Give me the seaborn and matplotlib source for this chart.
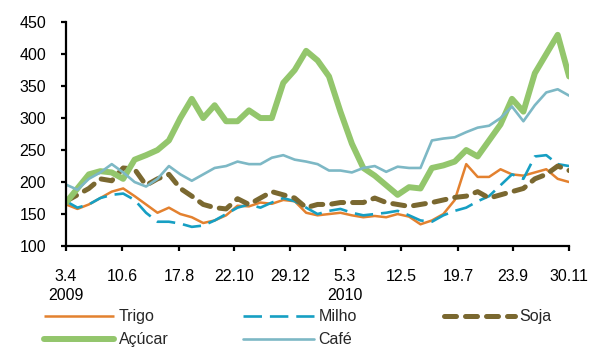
import pandas as pd
import matplotlib
matplotlib.use("Agg")
from matplotlib import pyplot
import seaborn as sns

# indices de precos (base 100), leitura aproximada do grafico
acucar = [168, 190, 212, 217, 215, 205, 235, 242, 250, 265, 300, 330, 300, 320, 295,
          295, 312, 300, 300, 355, 375, 405, 390, 365, 310, 260, 222, 210, 195, 180,
          192, 190, 222, 226, 232, 250, 240, 265, 290, 330, 310, 370, 400, 430, 365]
cafe = [196, 188, 205, 215, 228, 215, 200, 193, 205, 225, 212, 202, 212, 222, 225,
        232, 228, 228, 238, 242, 235, 232, 228, 218, 218, 215, 222, 225, 216, 224,
        222, 222, 265, 268, 270, 278, 285, 288, 300, 318, 295, 320, 340, 345, 335]
trigo = [165, 158, 165, 175, 185, 190, 178, 165, 152, 160, 150, 145, 136, 140, 148,
         163, 162, 168, 166, 172, 170, 152, 148, 150, 152, 148, 145, 147, 145, 150,
         146, 134, 140, 150, 172, 228, 208, 208, 220, 212, 210, 215, 220, 205, 200]
milho = [170, 160, 165, 175, 180, 182, 172, 152, 138, 138, 135, 130, 132, 140, 150,
         160, 165, 160, 168, 175, 170, 160, 150, 155, 158, 152, 148, 150, 152, 155,
         148, 140, 138, 148, 155, 160, 170, 178, 195, 212, 205, 240, 242, 228, 225]
soja = [170, 180, 190, 205, 202, 222, 220, 195, 205, 212, 190, 178, 165, 160, 158,
        174, 165, 175, 185, 180, 175, 160, 165, 165, 168, 168, 168, 175, 168, 165,
        162, 165, 168, 172, 176, 178, 185, 175, 180, 185, 190, 205, 212, 225, 218]

tick_dates = ['2009-04-03', '2009-06-10', '2009-08-17', '2009-10-22', '2009-12-29',
              '2010-03-05', '2010-05-12', '2010-07-19', '2010-09-23', '2010-11-30']
tick_labels = ['3.4\n2009', '10.6', '17.8', '22.10', '29.12', '5.3\n2010',
               '12.5', '19.7', '23.9', '30.11']

dates = pd.date_range('2009-04-03', '2010-11-30', periods=len(trigo))

sns.set_theme(style='white')
pyplot.rcParams['font.family'] = ['Liberation Sans', 'DejaVu Sans']
pyplot.rcParams['font.size'] = 11.5

fig = pyplot.figure(figsize=(5.91, 3.5), dpi=100)
ax = fig.add_axes([0.1117, 0.297, 0.963 - 0.1117, 0.937 - 0.297])

series = [
    ('Trigo', trigo, '#E3812F', 1.8, None, 'butt'),
    ('Milho', milho, '#169FC3', 1.9, (7, 3), 'butt'),
    ('Soja', soja, '#7A6830', 3.6, (2.4, 1.8), 'round'),
    ('Açúcar', acucar, '#93C66C', 4.3, None, 'round'),
    ('Café', cafe, '#7DB8C5', 1.9, None, 'round'),
]
handles = {}
for name, vals, col, lw, dash, cap in series:
    sns.lineplot(x=dates, y=vals, ax=ax, color=col, linewidth=lw, legend=False)
    ln = ax.lines[-1]
    if dash is not None:
        ln.set_dashes(dash)
    ln.set_dash_capstyle(cap)
    ln.set_solid_capstyle(cap)
    handles[name] = ln

ax.set_ylim(100, 450)
ax.set_yticks(range(100, 451, 50))
ax.set_xlim(pd.Timestamp(tick_dates[0]), pd.Timestamp(tick_dates[-1]))
ax.set_xticks([pd.Timestamp(d) for d in tick_dates])
ax.set_xticklabels(tick_labels, linespacing=1.35)
ax.set_xlabel('')
ax.set_ylabel('')

for s in ['top', 'right']:
    ax.spines[s].set_visible(False)
for s in ['left', 'bottom']:
    ax.spines[s].set_color('black')
    ax.spines[s].set_linewidth(1.6)
ax.tick_params(axis='both', which='major', direction='out', length=3.5, width=1.6,
               color='black', labelcolor='black', labelsize=11.5,
               bottom=True, left=True)
ax.tick_params(axis='x', pad=13)
ax.tick_params(axis='y', pad=11)

# legenda em tres colunas com espacamento fixo
cols = [(['Trigo', 'Açúcar'], 0.074), (['Milho', 'Café'], 0.412), (['Soja'], 0.752)]
for names, xpos in cols:
    leg = fig.legend([handles[n] for n in names], names, loc='upper left',
                     bbox_to_anchor=(xpos, 0.116), frameon=False, fontsize=11.5,
                     handlelength=4.4, handletextpad=0.3, labelspacing=0.5,
                     borderaxespad=0, borderpad=0)

fig.savefig('out.png', dpi=100)
